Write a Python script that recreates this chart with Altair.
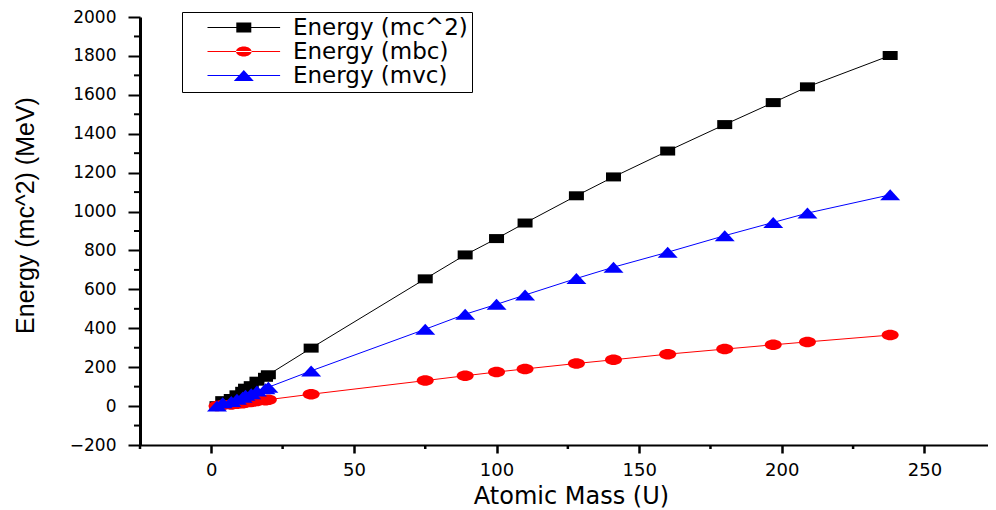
import altair as alt
import pandas as pd

# ---- data ----
mass = [2, 4, 7, 9, 11, 12, 14, 16, 19, 20, 35, 75, 89, 100, 110, 128, 141, 160, 180, 197, 209, 238]
e_mc2 = [2, 28, 39, 58, 76, 92, 105, 128, 148, 161, 298, 654, 777, 861, 941, 1081, 1178, 1311, 1447, 1560, 1641, 1802]
e_mbc = [0.5, 6, 8, 12, 15, 19, 21, 26, 30, 33, 61, 131, 156, 175, 191, 219, 238, 267, 293, 315, 330, 365]
e_mvc = [1, 17, 24, 35, 46, 56, 63, 77, 89, 97, 181, 395, 472, 523, 571, 656, 714, 791, 876, 944, 992, 1086]

series = ["Energy (mc^2)", "Energy (mbc)", "Energy (mvc)"]
colors = ["#000000", "#ff0000", "#0000ff"]

x_ticks = [0, 50, 100, 150, 200, 250]
x_minor = [-25, 25, 75, 125, 175, 225]
y_ticks = [-200, 0, 200, 400, 600, 800, 1000, 1200, 1400, 1600, 1800, 2000]
y_minor = [-100, 100, 300, 500, 700, 900, 1100, 1300, 1500, 1700, 1900]

# marker shapes (wide, like the reference)
marker_paths = [
    "M-1.5,-0.9H1.5V0.9H-1.5Z",
    "M-1.7,0A1.7,1.05 0 1,0 1.7,0A1.7,1.05 0 1,0 -1.7,0Z",
    "M0,-1.1L2,1.1H-2Z",
]
# legend symbols: short line with marker
legend_paths = [
    "M1,-0.05H8.26V0.05H1Z M3.88,-0.5H5.38V0.5H3.88Z",
    "M1,-0.05H8.26V0.05H1Z M3.85,0A0.78,0.5 0 1,0 5.41,0A0.78,0.5 0 1,0 3.85,0Z",
    "M1,-0.05H8.26V0.05H1Z M4.63,-0.55L5.63,0.55H3.63Z",
]

frames = []
for name, vals in zip(series, [e_mc2, e_mbc, e_mvc]):
    frames.append(pd.DataFrame({"mass": mass, "energy": vals, "series": name}))
df = pd.concat(frames, ignore_index=True)

W, H = 848, 428
FONT = "DejaVu Sans"

xscale = alt.Scale(domain=[-25, 272.3], nice=False, zero=False)
yscale = alt.Scale(domain=[-200, 2000], nice=False, zero=False)

ax_x = alt.Axis(values=x_ticks, title="Atomic Mass (U)", grid=False, tickSize=8, tickWidth=2.5,
                domainWidth=2, domainColor="black", tickColor="black", labelFont=FONT,
                labelFontSize=18, labelColor="black", labelPadding=8, labelFlush=False,
                titleFont=FONT, titleFontSize=24, titleFontWeight="normal", titleColor="black",
                titleBaseline="alphabetic", titleY=58, titleX=431, titleAlign="center")
ax_y = alt.Axis(values=y_ticks, format="d", title="Energy (mc^2) (MeV)", grid=False, tickSize=12,
                tickWidth=2, domainWidth=3, domainColor="black", tickColor="black", labelFont=FONT,
                labelFontSize=17, labelColor="black", labelPadding=12,
                titleFont="Liberation Sans", titleFontSize=25, titleFontWeight="normal",
                titleColor="black", titleBaseline="alphabetic", titleX=-107, titleY=198,
                titleAngle=270, titleAlign="center")

X = alt.X("mass:Q", scale=xscale, axis=ax_x)
Y = alt.Y("energy:Q", scale=yscale, axis=ax_y)
color_scale = alt.Scale(domain=series, range=colors)

base = alt.Chart(df)

lines = base.mark_line(strokeWidth=1).encode(
    x=X, y=Y, color=alt.Color("series:N", scale=color_scale, legend=None)
)
points = base.mark_point(filled=True, opacity=1, size=100, strokeWidth=0).encode(
    x=X, y=Y,
    color=alt.Color("series:N", scale=color_scale, legend=None),
    shape=alt.Shape("series:N", scale=alt.Scale(domain=series, range=marker_paths), legend=None),
)

leg = alt.Legend(orient="none", legendX=42, legendY=-5, title=None, labelFont=FONT,
                 labelFontSize=23, labelColor="black", labelLimit=400, strokeColor="black",
                 fillColor="white", padding=4, rowPadding=0, symbolSize=400, labelOffset=84,
                 symbolStrokeWidth=0, symbolOffset=0)
legend_layer = base.transform_filter("false").mark_point(filled=True, opacity=1, size=400,
                                                         strokeWidth=0).encode(
    x=X, y=Y,
    color=alt.Color("series:N", scale=color_scale, legend=leg),
    shape=alt.Shape("series:N", scale=alt.Scale(domain=series, range=legend_paths), legend=leg),
)

yminor = alt.Chart(pd.DataFrame({"energy": y_minor})).mark_rule(color="black", strokeWidth=2).encode(
    y=Y, x=alt.value(-6), x2=alt.value(0)
)
xminor = alt.Chart(pd.DataFrame({"mass": x_minor})).mark_rule(color="black", strokeWidth=2.5).encode(
    x=X, y=alt.value(H), y2=alt.value(H + 4)
)

chart = alt.layer(lines, points, legend_layer, yminor, xminor).resolve_scale(
    color="independent", shape="independent"
).properties(
    width=W, height=H,
    padding={"left": 132, "top": 9, "right": 0, "bottom": 64},
    autosize=alt.AutoSizeParams(type="none"),
).configure_view(stroke=None)

chart.save("out.html", embed_options={"renderer": "svg", "actions": False})
